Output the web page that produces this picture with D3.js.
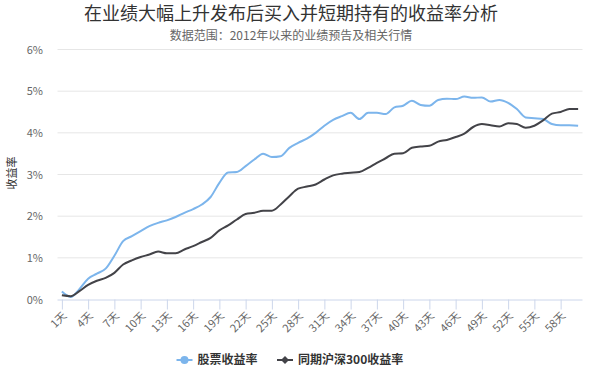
<!DOCTYPE html>
<html>
<head>
<meta charset="utf-8">
<script src="https://cdn.jsdelivr.net/npm/d3@7/dist/d3.min.js"></script>
<style>
  body { margin: 0; background: #fff; }
  svg { font-family: "Noto Sans CJK SC", "DejaVu Sans", sans-serif; }
</style>
</head>
<body>
<script>
const [svgWidth, svgHeight] = [597, 370];

const days = d3.range(1, 61).map(d => d + "天");
const yTicks = [0, 1, 2, 3, 4, 5, 6];

// 股票收益率 (%)
const stockReturn = [
  0.19, 0.06, 0.25, 0.5, 0.62, 0.74, 1.05, 1.4, 1.52, 1.64,
  1.76, 1.84, 1.9, 1.98, 2.08, 2.17, 2.28, 2.46, 2.8, 3.05,
  3.06, 3.2, 3.36, 3.5, 3.42, 3.44, 3.64, 3.76, 3.86, 4.0,
  4.17, 4.31, 4.4, 4.48, 4.33, 4.48, 4.48, 4.45, 4.61, 4.65,
  4.77, 4.67, 4.65, 4.79, 4.82, 4.81, 4.87, 4.84, 4.85, 4.75,
  4.79, 4.72, 4.57, 4.37, 4.35, 4.33, 4.21, 4.18, 4.18, 4.17
];

// 同期沪深300收益率 (%)
const hs300Return = [
  0.1, 0.08, 0.2, 0.35, 0.45, 0.52, 0.64, 0.84, 0.94, 1.02,
  1.08, 1.15, 1.11, 1.11, 1.2, 1.28, 1.38, 1.48, 1.66, 1.78,
  1.92, 2.05, 2.08, 2.13, 2.13, 2.28, 2.48, 2.66, 2.71, 2.76,
  2.88, 2.98, 3.02, 3.04, 3.06, 3.16, 3.28, 3.39, 3.5, 3.51,
  3.64, 3.67, 3.69, 3.79, 3.83, 3.9, 3.98, 4.14, 4.21, 4.18,
  4.15, 4.23, 4.21, 4.12, 4.17, 4.3, 4.46, 4.5, 4.57, 4.57
];

const seriesNames = ["股票收益率", "同期沪深300收益率"];
const seriesColors = ["#7cb5ec", "#434348"];

const plot = { left: 57.5, right: 582.5, top: 49.5, bottom: 299.5 };
const step = (plot.right - plot.left) / days.length;

const svg = d3.select("body")
  .append("svg")
  .attr("width", svgWidth)
  .attr("height", svgHeight);

const x = d3.scalePoint()
  .domain(days)
  .range([plot.left + step / 2, plot.right - step / 2]);

const y = d3.scaleLinear()
  .domain([0, 6])
  .range([plot.bottom, plot.top]);

// title + subtitle
svg.append("text")
  .attr("x", 291).attr("y", 20)
  .attr("text-anchor", "middle")
  .attr("font-size", "18px")
  .attr("fill", "#333")
  .text("在业绩大幅上升发布后买入并短期持有的收益率分析");

svg.append("text")
  .attr("x", 291).attr("y", 40)
  .attr("text-anchor", "middle")
  .attr("font-size", "12px")
  .attr("fill", "#666")
  .text("数据范围：2012年以来的业绩预告及相关行情");

// gridlines
svg.append("g")
  .selectAll("line")
  .data(yTicks.slice(1))
  .enter()
  .append("line")
    .attr("x1", plot.left)
    .attr("x2", plot.right)
    .attr("y1", d => y(d))
    .attr("y2", d => y(d))
    .attr("stroke", "#e6e6e6");

// y labels
svg.append("g")
  .selectAll("text")
  .data(yTicks)
  .enter()
  .append("text")
    .attr("x", 43)
    .attr("y", d => y(d) + 4)
    .attr("text-anchor", "end")
    .attr("font-size", "11px")
    .attr("fill", "#666")
    .text(d => d + "%");

svg.append("text")
  .attr("transform", "translate(16,173) rotate(-90)")
  .attr("text-anchor", "middle")
  .attr("font-size", "11px")
  .attr("fill", "#333")
  .text("收益率");

// x axis, a label every 3 days
const xAxis = d3.axisBottom(x)
  .tickValues(days.filter((d, i) => i % 3 === 0))
  .tickSize(10)
  .tickSizeOuter(0);

const gx = svg.append("g")
  .attr("transform", `translate(0,${plot.bottom})`)
  .call(xAxis);

gx.select(".domain")
  .attr("d", `M${plot.left},0.5H${plot.right}`)
  .attr("stroke", "#ccd6eb");
gx.selectAll(".tick line").attr("stroke", "#ccd6eb");
gx.selectAll(".tick text")
  .attr("font-family", "\"Noto Sans CJK SC\", sans-serif")
  .attr("font-size", "11px")
  .attr("fill", "#666")
  .attr("text-anchor", "end")
  .attr("y", 0).attr("dy", 0)
  .attr("transform", "translate(5,17) rotate(-45)");

// lines
const line = d3.line()
  .x((d, i) => x(days[i]))
  .y(d => y(d))
  .curve(d3.curveMonotoneX);

[stockReturn, hs300Return].forEach((values, k) => {
  svg.append("path")
    .datum(values)
    .attr("fill", "none")
    .attr("stroke", seriesColors[k])
    .attr("stroke-width", 2)
    .attr("stroke-linejoin", "round")
    .attr("d", line);
});

// legend
const legendX = [176.5, 277];
const legend = svg.append("g")
  .selectAll("g")
  .data(seriesNames)
  .enter()
  .append("g")
    .attr("transform", (d, i) => `translate(${legendX[i]},360)`);

legend.append("line")
  .attr("x1", 0).attr("x2", 16)
  .attr("stroke", (d, i) => seriesColors[i])
  .attr("stroke-width", 2);

legend.append("path")
  .attr("transform", "translate(8,0)")
  .attr("d", (d, i) => d3.symbol(i === 0 ? d3.symbolCircle : d3.symbolDiamond2, i === 0 ? 50 : 40)())
  .attr("fill", (d, i) => seriesColors[i]);

legend.append("text")
  .attr("x", 21)
  .attr("y", 4)
  .attr("font-size", "12px")
  .attr("font-weight", "bold")
  .attr("fill", "#333")
  .text(d => d);
</script>
</body>
</html>
